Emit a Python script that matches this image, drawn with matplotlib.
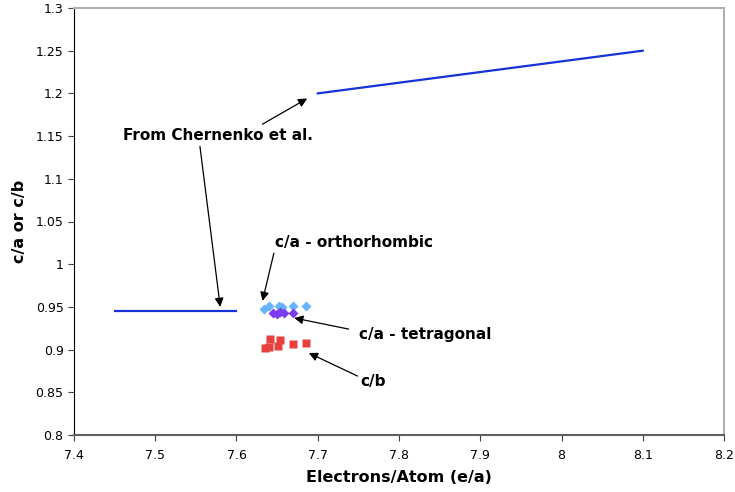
import numpy as np
import matplotlib
matplotlib.use('Agg')
import matplotlib.pyplot as plt

# Chernenko et al. reference lines
chern1_x = [7.45, 7.6]
chern1_y = [0.945, 0.945]
chern2_x = [7.7, 8.1]
chern2_y = [1.2, 1.25]

# c/a orthorhombic
ortho_x = [7.634, 7.640, 7.652, 7.656, 7.670, 7.685]
ortho_y = [0.947, 0.951, 0.951, 0.950, 0.951, 0.951]

# c/a tetragonal
tetra_x = [7.645, 7.650, 7.654, 7.659, 7.670]
tetra_y = [0.943, 0.942, 0.944, 0.943, 0.943]

# c/b
cb_x = [7.635, 7.640, 7.641, 7.651, 7.654, 7.670, 7.685]
cb_y = [0.902, 0.903, 0.912, 0.904, 0.911, 0.906, 0.908]

xticks = [7.4, 7.5, 7.6, 7.7, 7.8, 7.9, 8.0, 8.1, 8.2]
xlabels = ['7.4', '7.5', '7.6', '7.7', '7.8', '7.9', '8', '8.1', '8.2']
yticks = [0.8, 0.85, 0.9, 0.95, 1.0, 1.05, 1.1, 1.15, 1.2, 1.25, 1.3]
ylabels = ['0.8', '0.85', '0.9', '0.95', '1', '1.05', '1.1', '1.15', '1.2', '1.25', '1.3']

fig = plt.figure(figsize=(7.35, 4.92), dpi=100)
ax = fig.add_axes([74/735, 57/492, 650/735, 427/492])

blue = '#1533d6'
ax.plot(chern1_x, chern1_y, color=blue, lw=1.6)
ax.plot(chern2_x, chern2_y, color=blue, lw=1.6)
ax.plot(ortho_x, ortho_y, 'D', color='#66b3ff', ms=5, mec='none')
ax.plot(tetra_x, tetra_y, 'D', color='#7b3cf0', ms=5, mec='none')
ax.plot(cb_x, cb_y, 's', color='#e8403c', ms=5.5, mec='none')

ax.set_xlim(7.4, 8.2)
ax.set_ylim(0.8, 1.3)
ax.set_xticks(xticks)
ax.set_xticklabels(xlabels)
ax.set_yticks(yticks)
ax.set_yticklabels(ylabels)
ax.tick_params(labelsize=9, direction='out', length=4, color='#404040')
ax.tick_params(axis='x', pad=6)

for s in ['top', 'right']:
    ax.spines[s].set_color('#b0b0b0')
    ax.spines[s].set_linewidth(1.5)
ax.spines['left'].set_color('black')
ax.spines['bottom'].set_color('#606060')
ax.spines['bottom'].set_linewidth(1.5)

ax.set_xlabel('Electrons/Atom (e/a)', fontsize=11.5, fontweight='bold', labelpad=6)
ax.set_ylabel('c/a or c/b', fontsize=11.5, fontweight='bold', labelpad=6)

arrow = dict(arrowstyle='-|>', color='black', lw=0.9, mutation_scale=13, shrinkA=0, shrinkB=0)
tk = dict(fontsize=11, fontweight='bold', va='center', ha='left')

ax.text(7.46, 1.1505, 'From Chernenko et al.', **tk)
ax.annotate('', xy=(7.580, 0.950), xytext=(7.555, 1.138), arrowprops=arrow)
ax.annotate('', xy=(7.687, 1.194), xytext=(7.632, 1.164), arrowprops=arrow)

ax.text(7.647, 1.025, 'c/a - orthorhombic', **tk)
ax.annotate('', xy=(7.632, 0.957), xytext=(7.646, 1.013), arrowprops=arrow)

ax.text(7.751, 0.918, 'c/a - tetragonal', **tk)
ax.annotate('', xy=(7.671, 0.937), xytext=(7.738, 0.924), arrowprops=arrow)

ax.text(7.752, 0.863, 'c/b', **tk)
ax.annotate('', xy=(7.689, 0.896), xytext=(7.749, 0.869), arrowprops=arrow)

fig.savefig('out.png', dpi=100)
